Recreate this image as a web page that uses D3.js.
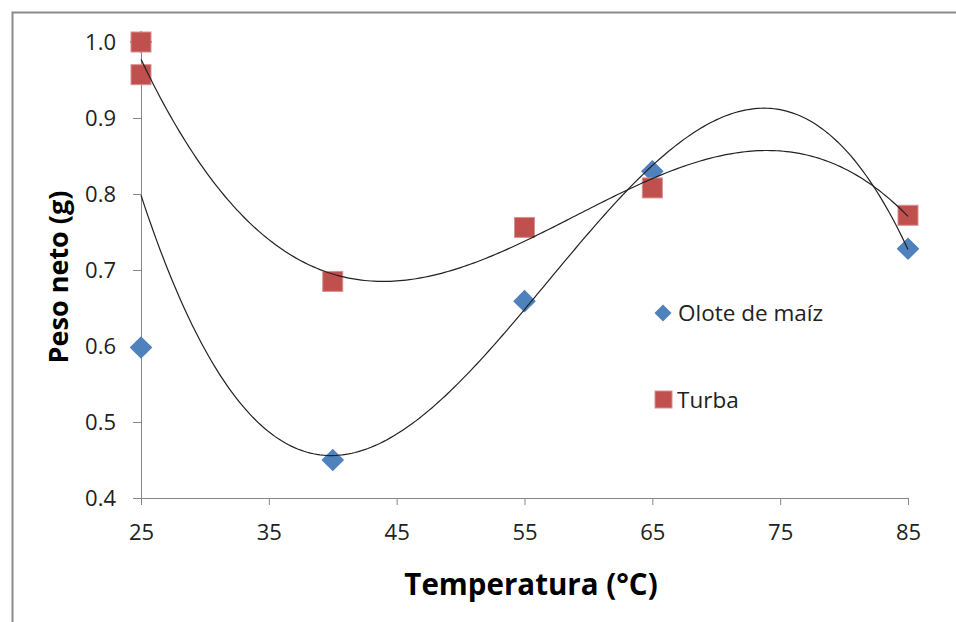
<!DOCTYPE html>
<html>
<head>
<meta charset="utf-8">
<script src="https://d3js.org/d3.v7.min.js"></script>
<style>
body { margin: 0; background: #fff; }
svg { display: block; }
text { font-family: 'Open Sans', 'Noto Sans', sans-serif; }
</style>
</head>
<body>
<div id="chart"></div>
<script>
// data
var xTicks = [25, 35, 45, 55, 65, 75, 85];
var yTicks = [0.4, 0.5, 0.6, 0.7, 0.8, 0.9, 1.0];

// Olote de maíz (the point at 25 / 1.0 sits behind the red square)
var oloteX = [25, 25, 40, 55, 65, 85];
var oloteY = [1.0, 0.598, 0.45, 0.659, 0.83, 0.728];
// Turba
var turbaX = [25, 25, 40, 55, 65, 85];
var turbaY = [1.0, 0.957, 0.685, 0.756, 0.808, 0.772];

var seriesNames = ["Olote de maíz", "Turba"];
var blue = "#4F81BD", red = "#C0504D";

var W = 956, H = 622;
var svg = d3.select("#chart").append("svg").attr("width", W).attr("height", H);

// frame of the chart area
svg.append("path")
  .attr("d", "M12.5," + H + " V12.5 H" + W)
  .attr("fill", "none").attr("stroke", "#8c8c8c").attr("stroke-width", 2);

var x = d3.scaleLinear().domain([25, 85]).range([141, 908]);
var y = d3.scaleLinear().domain([0.4, 1.0]).range([498, 42]);

// axes
var xAxis = svg.append("g").attr("transform", "translate(0,498)")
  .call(d3.axisBottom(x).tickValues(xTicks).tickSize(7).tickPadding(19).tickFormat(d3.format("d")));
var yAxis = svg.append("g").attr("transform", "translate(141,0)")
  .call(d3.axisLeft(y).tickValues(yTicks).tickSize(8).tickPadding(17).tickFormat(d3.format(".1f")));

[xAxis, yAxis].forEach(function(a){
  a.select(".domain").attr("stroke", "#868686");
  a.selectAll(".tick line").attr("stroke", "#868686");
  a.selectAll(".tick text").attr("fill", "#222").style("font-size", "22px");
});

// polynomial trendline, least squares (excel style, order 3)
function polyfit(xs, ys, order) {
  var n = order + 1;
  var A = [], b = [];
  for (var i = 0; i < n; i++) {
    A.push(new Array(n).fill(0));
    b.push(0);
  }
  xs.forEach(function(xv, k){
    var t = (xv - 55) / 30;
    for (var i = 0; i < n; i++) {
      b[i] += ys[k] * Math.pow(t, i);
      for (var j = 0; j < n; j++) A[i][j] += Math.pow(t, i + j);
    }
  });
  for (var c = 0; c < n; c++) {
    var p = c;
    for (var r = c + 1; r < n; r++) if (Math.abs(A[r][c]) > Math.abs(A[p][c])) p = r;
    var tmp = A[c]; A[c] = A[p]; A[p] = tmp;
    var tb = b[c]; b[c] = b[p]; b[p] = tb;
    for (var r = c + 1; r < n; r++) {
      var f = A[r][c] / A[c][c];
      for (var j = c; j < n; j++) A[r][j] -= f * A[c][j];
      b[r] -= f * b[c];
    }
  }
  var coef = new Array(n).fill(0);
  for (var i = n - 1; i >= 0; i--) {
    var s = b[i];
    for (var j = i + 1; j < n; j++) s -= A[i][j] * coef[j];
    coef[i] = s / A[i][i];
  }
  return function(xv) {
    var t = (xv - 55) / 30, s = 0;
    for (var i = 0; i < n; i++) s += coef[i] * Math.pow(t, i);
    return s;
  };
}

function drawDiamonds(xs, ys, size) {
  svg.append("g").selectAll("path").data(xs).enter().append("path")
    .attr("transform", function(d, i){ return "translate(" + x(d) + "," + y(ys[i]) + ") rotate(45)"; })
    .attr("d", d3.symbol().type(d3.symbolSquare).size(size * size))
    .attr("fill", blue);
}
function drawSquares(xs, ys, s) {
  svg.append("g").selectAll("rect").data(xs).enter().append("rect")
    .attr("x", function(d){ return x(d) - s / 2; })
    .attr("y", function(d, i){ return y(ys[i]) - s / 2; })
    .attr("width", s).attr("height", s)
    .attr("fill", red).attr("stroke", "#d9908e").attr("stroke-width", 1);
}

drawDiamonds(oloteX, oloteY, 16);
drawSquares(turbaX, turbaY, 20);

// trendlines on top of the markers
var fitOlote = polyfit(oloteX, oloteY, 3);
var fitTurba = polyfit(turbaX, turbaY, 3);
var xs = d3.range(25, 85.01, 0.25);
var line = d3.line().x(function(d){ return x(d[0]); }).y(function(d){ return y(d[1]); });
[fitOlote, fitTurba].forEach(function(f){
  svg.append("path")
    .datum(xs.map(function(v){ return [v, f(v)]; }))
    .attr("d", line)
    .attr("fill", "none").attr("stroke", "#222").attr("stroke-width", 1.2);
});

// legend
var lg = svg.append("g");
lg.append("path")
  .attr("transform", "translate(663,313) rotate(45)")
  .attr("d", d3.symbol().type(d3.symbolSquare).size(12 * 12))
  .attr("fill", blue);
lg.append("rect").attr("x", 655).attr("y", 391).attr("width", 17).attr("height", 17)
  .attr("fill", red).attr("stroke", "#d9908e");
lg.append("text").attr("x", 678).attr("y", 321).attr("fill", "#222").style("font-size", "22.5px").text(seriesNames[0]);
lg.append("text").attr("x", 677).attr("y", 408).attr("fill", "#222").style("font-size", "22.5px").text(seriesNames[1]);

// axis titles
svg.append("text").attr("x", 531).attr("y", 595).attr("text-anchor", "middle")
  .style("font-size", "29.5px").style("font-weight", "bold").attr("fill", "#000")
  .text("Temperatura (°C)");
svg.append("text").attr("transform", "translate(68,277) rotate(-90)").attr("text-anchor", "middle")
  .style("font-size", "27px").style("font-weight", "bold").attr("fill", "#000")
  .text("Peso neto (g)");
</script>
</body>
</html>
